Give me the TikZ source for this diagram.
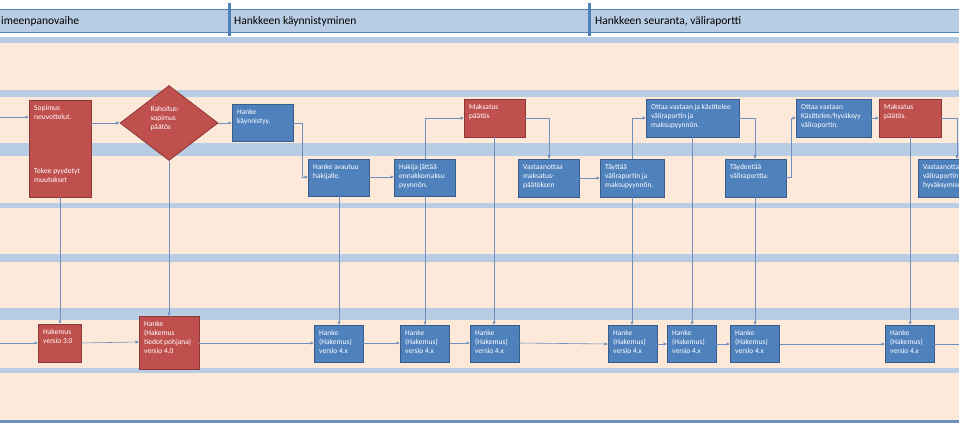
\documentclass[tikz,border=0pt]{standalone}
\usepackage{fontspec}
\setmainfont{Carlito}
\usetikzlibrary{arrows.meta,shapes.geometric}
\definecolor{peach}{HTML}{FDE9D9}
\definecolor{lb}{HTML}{B8CCE4}
\definecolor{bl}{HTML}{4F81BD}
\definecolor{bld}{HTML}{385D8A}
\definecolor{rd}{HTML}{C0504D}
\definecolor{rdd}{HTML}{8C3836}
\definecolor{ln}{HTML}{6F8FBF}
\tikzset{
 bluebox/.style={draw=bld,fill=bl,line width=0.8pt},
 redbox/.style={draw=rdd,fill=rd,line width=0.8pt},
 txt/.style={anchor=north west,text=white,font=\fontsize{7.5}{9}\selectfont,align=left,inner sep=0pt},
 conn/.style={draw=ln,line width=0.6pt,-{Latex[length=3.5pt,width=3.5pt]}},
}
\newcommand{\bx}[7]{\path[#6] (#2,#3) rectangle (#4,#5);
 \coordinate (#1nw) at (#2,#3); \coordinate (#1se) at (#4,#5);
 \node[txt] (#1t) at (#2+5,#3+5) {#7};}
\begin{document}
\begin{tikzpicture}[x=1pt,y=-1pt]
\useasboundingbox (0,0) rectangle (959,425);
\clip (0,0) rectangle (959,425);
\fill[white] (0,0) rectangle (959,425);
\fill[peach] (0,43) rectangle (959,420);
% header
\fill[lb] (0,10) rectangle (959,33);
\draw[bl,line width=1pt] (0,10) -- (959,10) (0,33) -- (959,33);
\fill[bl] (227.5,3) rectangle (231,36);
\fill[bl] (587.5,3) rectangle (591,36);
\node[anchor=west,inner sep=0pt,font=\fontsize{11.5}{13}\selectfont] (h1) at (1,21.5) {imeenpanovaihe};
\node[anchor=west,inner sep=0pt,font=\fontsize{11.5}{13}\selectfont] (h2) at (234,21.5) {Hankkeen käynnistyminen};
\node[anchor=west,inner sep=0pt,font=\fontsize{11.5}{13}\selectfont] (h3) at (595,21.5) {Hankkeen seuranta, väliraportti};
% stripes
\foreach \a/\b in {37/43,90/97,143/156,203/208,254/262,308/320,368/373}
  \fill[lb] (0,\a) rectangle (959,\b);
\fill[ln] (0,420) rectangle (959,422.5);
% top row
\bx{sop}{29}{100}{91}{197}{redbox}{Sopimus\\neuvottelut.}
\node[txt] (sop2) at (34,168) {Tekee pyydetyt\\muutokset};
\node[diamond,redbox,minimum width=98pt,minimum height=75pt,inner sep=0pt,aspect=1.3] (dia) at (169,123) {};
\node[txt,anchor=north] (diat) at (165,106) {Rahoitus-\\sopimus\\päätös};
\bx{hk}{232}{104}{293}{141}{bluebox}{Hanke\\käynnistyy.}
\bx{ha}{308}{159}{369}{196}{bluebox}{Hanke avautuu\\hakijalle.}
\bx{hj}{394}{159}{455}{196}{bluebox}{Hakija jättää\\ennakkomaksu\\pyynnön.}
\bx{mp}{464}{99}{525}{137}{redbox}{Maksatus\\päätös}
\bx{vm}{518}{159}{579}{197}{bluebox}{Vastaanottaa\\maksatus-\\päätöksen}
\bx{ty}{600}{159}{664}{197}{bluebox}{Täyttää\\väliraportin ja\\maksupyynnön.}
\bx{ok}{646}{99}{739}{137}{bluebox}{Ottaa vastaan ja käsittelee\\väliraportin ja\\maksupyynnön.}
\bx{td}{725}{159}{786}{197}{bluebox}{Täydentää\\väliraporttia.}
\bx{oh}{796}{99}{871}{137}{bluebox}{Ottaa vastaan\\Käsittelee/hyväksyy\\väliraportin.}
\bx{mq}{879}{99}{941}{137}{redbox}{Maksatus\\päätös.}
\bx{vv}{918}{159}{970}{197}{bluebox}{Vastaanottaa\\väliraportin\\hyväksymisen}
% bottom row
\bx{b1}{38}{324}{81}{362}{redbox}{Hakemus\\versio 3.0}
\bx{b2}{139}{316}{199}{369}{redbox}{Hanke\\(Hakemus\\tiedot pohjana)\\versio 4.0}
\foreach \n/\x in {b3/314,b4/400,b5/470,b6/608,b7/667,b8/730,b9/885}{
  \bx{\n}{\x}{325}{\x+49}{362}{bluebox}{Hanke\\(Hakemus)\\versio 4.x}}
% connectors top
\coordinate (L1) at (0,117);
\draw[conn] (L1) -- (29,117);
\draw[conn] (91,123) -- (dia.west);
\draw[conn] (dia.east) -- (232,123);
\draw[conn] (293,123) -| (302,177) -- (308,177);
\draw[conn] (369,177) -- (394,177);
\draw[conn] (425,159) |- (464,118);
\draw[conn] (525,118) -| (549,159);
\draw[conn] (579,178) -- (600,178);
\draw[conn] (632,159) |- (646,118);
\draw[conn] (739,118) -| (755,159);
\draw[conn] (786,177) -| (791,118) -- (796,118);
\draw[conn] (871,118) -- (879,118);
\draw[conn] (941,118) -| (957,159);
% verticals
\draw[conn] (60,197) -- (60,324);
\draw[conn] (dia.south) -- (169,316);
\draw[conn] (339,196) -- (339,325);
\draw[conn] (425,196) -- (425,325);
\draw[conn] (494,137) -- (494,325);
\draw[conn] (632,197) -- (632,325);
\draw[conn] (692,137) -- (692,325);
\draw[conn] (755,197) -- (755,325);
\draw[conn] (910,137) -- (910,325);
% bottom connectors
\draw[conn] (0,343) -- (38,343);
\draw[conn] (81,343) -- (139,342);
\draw[conn] (199,343) -- (314,343);
\draw[conn] (363,343) -- (400,343);
\draw[conn] (450,343) -- (470,343);
\draw[conn] (519,343) -- (608,344);
\draw[conn] (657,344) -- (667,344);
\draw[conn] (716,344) -- (730,344);
\draw[conn] (780,344) -- (885,344);
\draw[ln,line width=0.6pt] (934,344) -- (959,344);
\end{tikzpicture}
\end{document}
